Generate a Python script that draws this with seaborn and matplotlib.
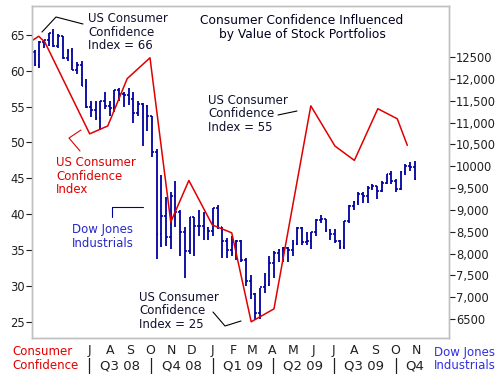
import pandas as pd
import matplotlib
matplotlib.use('Agg')
import matplotlib.pyplot as plt
from matplotlib.lines import Line2D
import seaborn as sns

# weekly Dow Jones bars (Friday of each week)
weeks = pd.date_range('2008-04-04', '2009-10-30', freq='W-FRI')
dow_open = [12260, 12609, 12325, 12849, 12891, 13058, 12745, 12986, 12480, 12638,
            12209, 12307, 11843, 11346, 11288, 11100, 11496, 11370, 11326, 11734,
            11659, 11628, 11543, 11220, 11421, 11388, 11143, 10325, 8451, 8852,
            8378, 9325, 8943, 8497, 8046, 8829, 8635, 8629, 8579, 8515,
            9034, 8599, 8281, 8077, 8001, 8280, 7850, 7366, 7063, 6627,
            7224, 7279, 7776, 8018, 8083, 8131, 8076, 8212, 8575, 8268,
            8277, 8500, 8764, 8799, 8539, 8438, 8280, 8146, 8743, 9093,
            9172, 9370, 9321, 9505, 9544, 9441, 9605, 9820, 9665, 9488,
            9865, 9996, 9972]
dow_high = [12700, 12650, 12870, 12900, 13060, 13130, 13030, 12990, 12680, 12700,
            12380, 12400, 12000, 11500, 11500, 11500, 11700, 11500, 11750, 11800,
            11700, 11790, 11700, 11500, 11450, 11400, 11150, 10400, 9800, 9300,
            9400, 9650, 9000, 8600, 8830, 8830, 9000, 8950, 8600, 9050,
            9100, 8600, 8350, 8400, 8300, 8300, 7900, 7500, 7100, 7200,
            7550, 7950, 8050, 8100, 8150, 8150, 8300, 8600, 8600, 8500,
            8500, 8800, 8880, 8800, 8550, 8550, 8300, 8750, 9100, 9200,
            9400, 9400, 9550, 9600, 9550, 9650, 9830, 9900, 9700, 9880,
            10050, 10100, 10120]
dow_low = [12260, 12300, 12250, 12700, 12750, 12740, 12700, 12450, 12400, 12200,
           12100, 11840, 11330, 11130, 11050, 10830, 11300, 11150, 11250, 11500,
           11350, 11400, 11000, 11150, 10460, 10800, 10200, 7880, 8150, 8170,
           8100, 8600, 7950, 7450, 8000, 7950, 8400, 8300, 8300, 8400,
           8550, 7900, 7900, 7950, 7850, 7800, 7250, 6950, 6470, 6500,
           7100, 7250, 7450, 7800, 7800, 7800, 7950, 8200, 8200, 8200,
           8100, 8400, 8700, 8500, 8300, 8250, 8100, 8100, 8700, 9000,
           9100, 9150, 9150, 9450, 9250, 9400, 9600, 9600, 9400, 9450,
           9800, 9900, 9680]
dow_close = [12609, 12325, 12849, 12891, 13058, 12745, 12986, 12480, 12638, 12209,
             12307, 11843, 11346, 11288, 11100, 11496, 11370, 11326, 11734, 11659,
             11628, 11543, 11220, 11421, 11388, 11143, 10325, 8451, 8852, 8378,
             9325, 8943, 8497, 8046, 8829, 8635, 8629, 8579, 8515, 9034,
             8599, 8281, 8077, 8001, 8280, 7850, 7366, 7063, 6627, 7224,
             7279, 7776, 8018, 8083, 8131, 8076, 8212, 8575, 8268, 8277,
             8500, 8764, 8799, 8539, 8438, 8280, 8146, 8743, 9093, 9172,
             9370, 9321, 9505, 9544, 9441, 9605, 9820, 9665, 9488, 9865,
             9996, 9972, 9713]

# consumer confidence index
cci_dates = pd.to_datetime(['2008-04-07', '2008-04-17', '2008-04-26', '2008-07-02',
                            '2008-07-29', '2008-08-27', '2008-09-30', '2008-10-31',
                            '2008-11-27', '2009-01-01', '2009-01-30', '2009-02-28',
                            '2009-04-03', '2009-05-28', '2009-07-03', '2009-08-01',
                            '2009-09-05', '2009-10-04', '2009-10-19'])
cci_values = [64.2, 64.8, 64.0, 51.2, 52.3, 58.9, 61.8, 38.9, 44.7, 38.5,
              37.4, 25.0, 26.8, 55.1, 49.5, 47.5, 54.7, 53.3, 49.6]

month_letters = list('JASONDJFMAMJJASON')
quarter_labels = ['Q3 08', 'Q4 08', 'Q1 09', 'Q2 09', 'Q3 09', 'Q4']
cci_ticks = [25, 30, 35, 40, 45, 50, 55, 60, 65]
dow_ticks = [6500, 7000, 7500, 8000, 8500, 9000, 9500, 10000, 10500, 11000, 11500, 12000, 12500]
dow_tick_labels = ['6500', '7,000', '7,500', '8,000', '8,500', '9,000', '9,500',
                   '10000', '10,500', '11,000', '11,500', '12,000', '12500']

RED = '#e00000'
BAR = '#0000a0'
BLUE = '#2828c8'
INK = '#101030'
W, H = 499, 377

sns.set_theme(style='white')
plt.rcParams['font.family'] = ['DejaVu Sans']


def fx(x):
    return x / W


def fy(y):
    return 1 - y / H


fig = plt.figure(figsize=(W / 100, H / 100), dpi=100)
ax = fig.add_axes([fx(32), fy(338), (449 - 32) / W, (338 - 6) / H])

# Dow bars (open tick left, close tick right)
tick = pd.Timedelta(days=2.6)
ax.vlines(weeks, dow_low, dow_high, color=BAR, lw=1.3)
ax.hlines(dow_open, weeks - tick, weeks, color=BAR, lw=1.2)
ax.hlines(dow_close, weeks, weeks + tick, color=BAR, lw=1.2)

ax2 = ax.twinx()
sns.lineplot(x=cci_dates, y=cci_values, ax=ax2, color=RED, lw=1.1)

ax.set_xlim(pd.Timestamp('2008-04-06 22:00'), pd.Timestamp('2009-12-20 05:00'))
ax.set_ylim(6065, 13668)
ax2.set_ylim(22.74, 69.02)

# right axis: Dow
ax.yaxis.tick_right()
ax.set_yticks(dow_ticks)
ax.set_yticklabels(dow_tick_labels)
ax.tick_params(axis='y', which='both', right=True, left=False, length=4, width=0.8,
               pad=1, labelsize=8.3, colors='#202020', direction='out')

# left axis: confidence
ax2.yaxis.tick_left()
ax2.set_yticks(cci_ticks)
ax2.set_yticklabels([str(v) for v in cci_ticks])
ax2.tick_params(axis='y', left=True, right=False, length=4, width=0.8, pad=1,
                labelsize=8.3, colors='#202020', direction='out')
ax2.set_ylabel('')

# month ticks
month_ticks = pd.date_range('2008-07-01', '2009-11-01', freq='MS')
ax.set_xticks(month_ticks)
ax.set_xticklabels(month_letters)
ax.tick_params(axis='x', length=0, pad=4.5, labelsize=9, colors='#202020')
ax2.tick_params(axis='x', length=0)

for a in (ax, ax2):
    for s in a.spines.values():
        s.set_color('#c0c0c0')
        s.set_linewidth(1)

# quarter row
qstarts = pd.date_range('2008-07-01', '2009-10-01', freq='QS')
trans = ax.get_xaxis_transform()
qy = -(366 - 338) / (338 - 6)
for i, (qs, lab) in enumerate(zip(qstarts, quarter_labels)):
    ax.text(qs, qy, '|', transform=trans, ha='center', va='center', fontsize=11,
            color='#202020', clip_on=False)
    if i < len(quarter_labels) - 1:
        ax.text(qs + pd.Timedelta(days=46), qy, lab, transform=trans, ha='center',
                va='center', fontsize=9.5, color='#202020', clip_on=False)
    else:
        ax.text(qs + pd.Timedelta(days=15), qy, lab, transform=trans, ha='left',
                va='center', fontsize=9.5, color='#202020', clip_on=False)

# title
fig.text(fx(302), fy(27.5), 'Consumer Confidence Influenced\nby Value of Stock Portfolios',
         ha='center', va='center', fontsize=8.8, linespacing=1.05, color='#000020')

# annotations
fs = 8.5
fig.text(fx(88), fy(32), 'US Consumer\nConfidence\nIndex = 66', ha='left', va='center',
         fontsize=fs, linespacing=1.05, color=INK)
fig.text(fx(208), fy(114), 'US Consumer\nConfidence\nIndex = 55', ha='left', va='center',
         fontsize=fs, linespacing=1.05, color=INK)
fig.text(fx(56), fy(176), 'US Consumer\nConfidence\nIndex', ha='left', va='center',
         fontsize=fs, linespacing=1.05, color=RED)
fig.text(fx(72), fy(236.5), 'Dow Jones\nIndustrials', ha='left', va='center',
         fontsize=fs, linespacing=1.05, color=BLUE)
fig.text(fx(139), fy(311), 'US Consumer\nConfidence\nIndex = 25', ha='left', va='center',
         fontsize=fs, linespacing=1.05, color=INK)
fig.text(fx(12), fy(358.5), 'Consumer\nConfidence', ha='left', va='center',
         fontsize=fs, linespacing=1.05, color=RED)
fig.text(fx(434), fy(359), 'Dow Jones\nIndustrials', ha='left', va='center',
         fontsize=fs, linespacing=1.05, color='#3030e0')

leaders = [
    ([42, 56, 83], [32, 17, 24], 'black'),
    ([278, 297], [115, 111], 'black'),
    ([81, 69, 80], [130, 138, 151], RED),
    ([112, 112, 143], [217, 207, 207], BAR),
    ([213, 225, 241], [312, 326, 321], 'black'),
]
for xs, ys, c in leaders:
    fig.add_artist(Line2D([fx(v) for v in xs], [fy(v) for v in ys], color=c, lw=0.8,
                          transform=fig.transFigure))

fig.savefig('out.png', dpi=100)
